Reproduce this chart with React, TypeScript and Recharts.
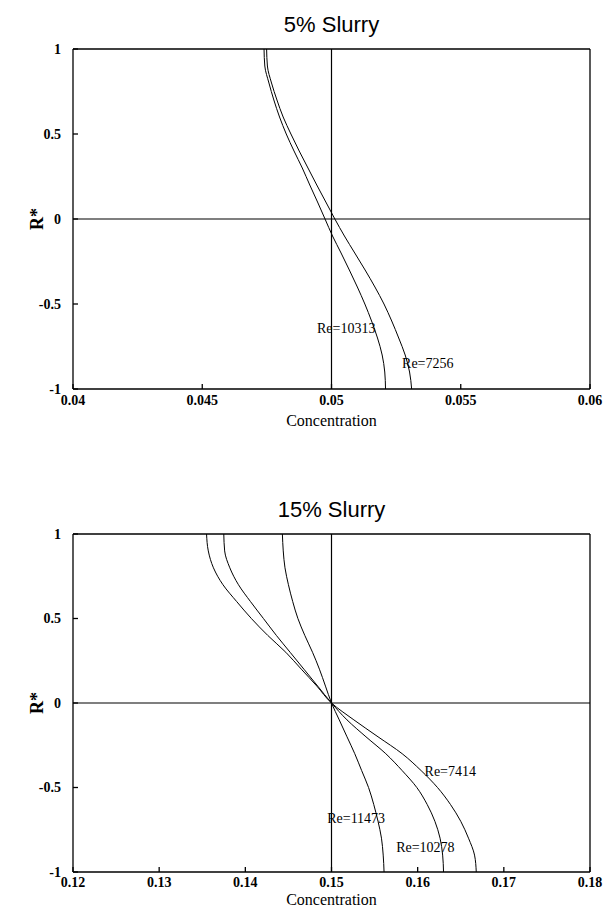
import { LineChart, Line, XAxis, YAxis, ReferenceLine, ReferenceDot } from 'recharts'

// R* sample positions (top of pipe = 1, bottom = -1)
const rStar = [1, 0.9, 0.8, 0.7, 0.6, 0.5, 0.4, 0.3, 0.2, 0.1, 0, -0.1, -0.2, -0.3, -0.4, -0.5, -0.6, -0.7, -0.8, -0.9, -1]

// 5% slurry concentration profiles
const re10313 = [0.04739, 0.04742, 0.04758, 0.04777, 0.04799, 0.04825, 0.04855, 0.04887, 0.04916, 0.04946, 0.04975, 0.05004, 0.05037, 0.05069, 0.051, 0.05129, 0.05155, 0.05178, 0.05196, 0.05206, 0.05209]
const re7256 = [0.04749, 0.04752, 0.04768, 0.04789, 0.04813, 0.04843, 0.04875, 0.04909, 0.04943, 0.04978, 0.05013, 0.0505, 0.0509, 0.0513, 0.05168, 0.05203, 0.05233, 0.0526, 0.05285, 0.05302, 0.0531]

// 15% slurry concentration profiles
const re7414 = [0.1355, 0.1357, 0.1363, 0.1374, 0.139, 0.1407, 0.1426, 0.1447, 0.1465, 0.1483, 0.15, 0.1526, 0.1554, 0.1582, 0.1604, 0.1623, 0.1638, 0.165, 0.1659, 0.1666, 0.1668]
const re10278 = [0.1375, 0.1376, 0.1382, 0.1392, 0.1406, 0.1421, 0.1436, 0.1452, 0.1468, 0.1484, 0.15, 0.1518, 0.154, 0.1563, 0.1582, 0.1599, 0.1611, 0.162, 0.1626, 0.1629, 0.163]
const re11473 = [0.1443, 0.1444, 0.1446, 0.145, 0.1455, 0.1461, 0.1469, 0.1478, 0.1486, 0.1493, 0.15, 0.1509, 0.1518, 0.1527, 0.1535, 0.1543, 0.1549, 0.1554, 0.1558, 0.156, 0.1561]

const xTicks5 = [0.04, 0.045, 0.05, 0.055, 0.06]
const xTicks15 = [0.12, 0.13, 0.14, 0.15, 0.16, 0.17, 0.18]
const yTicks = [-1, -0.5, 0, 0.5, 1]

const rows5 = rStar.map((r, i) => ({ r, a: re10313[i], b: re7256[i] }))
const rows15 = rStar.map((r, i) => ({ r, a: re7414[i], b: re10278[i], c: re11473[i] }))

const labels5 = [
  { text: 'Re=10313', x: 0.04944, y: -0.64 },
  { text: 'Re=7256', x: 0.05273, y: -0.85 },
]
const labels15 = [
  { text: 'Re=7414', x: 0.1608, y: -0.4 },
  { text: 'Re=11473', x: 0.1495, y: -0.68 },
  { text: 'Re=10278', x: 0.1575, y: -0.85 },
]

const serif = '"Liberation Serif", "Times New Roman", serif'
const tickStyle = { fontFamily: serif, fontSize: 14, fill: '#000', fontWeight: 'bold' }

function SlurryChart({ title, top, height, plotHeight, rows, keys, domain, ticks, center, labels, xMargin, labelOffset }: any) {
  const axisH = 30
  const marginBottom = height - 49 - plotHeight - axisH
  return (
    <div style={{ position: 'absolute', left: 0, top, width: 605, height }}>
      <div style={{ position: 'absolute', left: 73, width: 517, top: 12, lineHeight: '26px', textAlign: 'center', fontFamily: '"Liberation Sans", Arial, sans-serif', fontSize: 22 }}>
        {title}
      </div>
      <LineChart width={605} height={height} data={rows} layout="vertical" margin={{ top: 49, right: 15, left: 0, bottom: marginBottom }}>
        <XAxis
          type="number"
          domain={domain}
          ticks={ticks}
          interval={0}
          allowDataOverflow
          height={axisH}
          stroke="#000"
          strokeWidth={1.3}
          tick={tickStyle}
          tickSize={-5}
          tickMargin={xMargin}
          tickFormatter={(v: number) => String(v)}
          label={{ value: 'Concentration', position: 'insideBottom', offset: labelOffset, style: { fontFamily: serif, fontSize: 16, fill: '#000' } }}
        />
        <YAxis
          type="number"
          dataKey="r"
          domain={[-1, 1]}
          reversed
          ticks={yTicks}
          interval={0}
          width={73}
          stroke="#000"
          strokeWidth={1.3}
          tick={tickStyle}
          tickSize={-5}
          tickMargin={17}
          tickFormatter={(v: number) => String(v)}
          label={{ value: 'R*', angle: -90, position: 'center', style: { fontFamily: serif, fontSize: 18, fontWeight: 'bold', fill: '#000' } }}
        />
        <ReferenceLine y={1} stroke="#000" strokeWidth={1.3} />
        <ReferenceLine x={domain[1]} stroke="#000" strokeWidth={1.3} />
        <ReferenceLine y={0} stroke="#000" strokeWidth={1.2} />
        <ReferenceLine x={center} stroke="#000" strokeWidth={1.2} />
        {keys.map((k: string) => (
          <Line key={k} type="monotone" dataKey={k} stroke="#000" strokeWidth={1} dot={false} isAnimationActive={false} />
        ))}
        {labels.map((l: any) => (
          <ReferenceDot
            key={l.text}
            x={l.x}
            y={l.y}
            r={0}
            fill="none"
            stroke="none"
            label={{ value: l.text, position: 'right', offset: 0, style: { fontFamily: serif, fontSize: 14, fill: '#000' } }}
          />
        ))}
      </LineChart>
    </div>
  )
}

export default function App() {
  return (
    <div style={{ position: 'absolute', left: 0, top: 0, width: 605, height: 908, background: '#fff', overflow: 'hidden' }}>
      <SlurryChart title="5% Slurry" top={0} height={440} plotHeight={340} rows={rows5} keys={['a', 'b']} domain={[0.04, 0.06]} ticks={xTicks5} center={0.05} labels={labels5} xMargin={11} labelOffset={-7} />
      <SlurryChart title="15% Slurry" top={485} height={423} plotHeight={338} rows={rows15} keys={['a', 'b', 'c']} domain={[0.12, 0.18]} ticks={xTicks15} center={0.15} labels={labels15} xMargin={10} labelOffset={-3} />
    </div>
  )
}
